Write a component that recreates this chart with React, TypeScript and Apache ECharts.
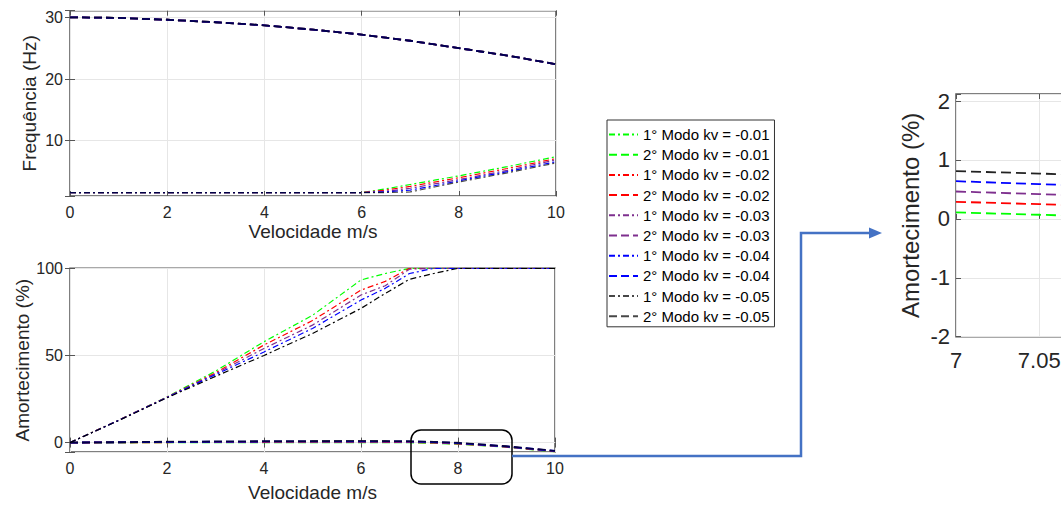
import React, { useEffect, useRef } from "react";
import * as echarts from "echarts";

// ---- data ----
const velocity = [0, 1, 2, 3, 4, 5, 6, 6.5, 7, 7.5, 8, 9, 10];
const kvLabels = ["-0.01", "-0.02", "-0.03", "-0.04", "-0.05"];
const kvColors = ["#00ff00", "#ff0000", "#7e2f8e", "#0000ff", "#000000"];

// Frequency (Hz), 1st mode, per kv
const freqMode1 = [
  [1.6, 1.6, 1.6, 1.6, 1.6, 1.6, 1.6, 2.2, 2.9, 3.6, 4.3, 5.8, 7.4],
  [1.6, 1.6, 1.6, 1.6, 1.6, 1.6, 1.6, 2.0, 2.6, 3.3, 4.0, 5.5, 7.1],
  [1.6, 1.6, 1.6, 1.6, 1.6, 1.6, 1.6, 1.8, 2.3, 3.0, 3.7, 5.2, 6.9],
  [1.6, 1.6, 1.6, 1.6, 1.6, 1.6, 1.6, 1.7, 2.0, 2.7, 3.5, 5.0, 6.6],
  [1.6, 1.6, 1.6, 1.6, 1.6, 1.6, 1.6, 1.6, 1.7, 2.5, 3.3, 4.8, 6.4],
];
// Frequency (Hz), 2nd mode, per kv
const freqMode2 = [
  [30.0, 29.9, 29.6, 29.2, 28.7, 28.0, 27.2, 26.7, 26.2, 25.6, 25.0, 23.8, 22.4],
  [30.0, 29.9, 29.6, 29.2, 28.7, 28.0, 27.2, 26.7, 26.2, 25.6, 25.0, 23.8, 22.4],
  [30.0, 29.9, 29.6, 29.2, 28.7, 28.0, 27.2, 26.7, 26.2, 25.6, 25.0, 23.8, 22.4],
  [30.0, 29.9, 29.6, 29.2, 28.7, 28.0, 27.2, 26.7, 26.2, 25.6, 25.0, 23.8, 22.4],
  [30.0, 29.9, 29.6, 29.2, 28.7, 28.0, 27.2, 26.7, 26.2, 25.6, 25.0, 23.8, 22.4],
];
// Damping (%), 1st mode, per kv
const dampMode1 = [
  [0, 12.8, 26.2, 41, 57.9, 73, 93.3, 97, 100, 100, 100, 100, 100],
  [0, 12.8, 26.1, 40, 56, 70, 87.5, 92.5, 100, 100, 100, 100, 100],
  [0, 12.8, 26.0, 39.5, 54, 67.4, 84.7, 90, 99.5, 100, 100, 100, 100],
  [0, 12.7, 25.9, 39, 52, 65.5, 81.8, 88.5, 97, 100, 100, 100, 100],
  [0, 12.6, 25.7, 38, 50, 62.6, 77, 85.6, 93.7, 97, 100, 100, 100],
];
// Damping (%), 2nd mode, per kv
const dampMode2 = [
  [0, 0.05, 0.1, 0.15, 0.2, 0.2, 0.2, 0.15, 0.11, -0.2, -0.7, -2.5, -5.1],
  [0, 0.1, 0.2, 0.3, 0.35, 0.4, 0.4, 0.35, 0.29, 0, -0.55, -2.4, -5.0],
  [0, 0.15, 0.3, 0.4, 0.5, 0.55, 0.6, 0.55, 0.465, 0.15, -0.4, -2.3, -4.9],
  [0, 0.2, 0.4, 0.5, 0.65, 0.7, 0.75, 0.7, 0.64, 0.3, -0.25, -2.2, -4.8],
  [0, 0.25, 0.5, 0.65, 0.8, 0.9, 0.95, 0.9, 0.81, 0.45, -0.1, -2.1, -4.7],
];
// Zoomed detail around 7 m/s, 2nd mode damping
const zoomVelocity = [7, 7.05, 7.1];
const zoomDampMode2 = [
  [0.11, 0.07, 0.03],
  [0.29, 0.25, 0.21],
  [0.465, 0.42, 0.38],
  [0.64, 0.59, 0.55],
  [0.81, 0.77, 0.72],
];

const FONT = "'Liberation Sans', Arial, Helvetica, sans-serif";
const AXIS_COLOR = "#555555";
const TEXT_COLOR = "#262626";
const GRID_LINE = "#e6e6e6";
const DASH = [8, 4];
const DASH_DOT = [6, 3, 2, 3];

const mode1Name = (i: number) => `1° Modo kv = ${kvLabels[i]}`;
const mode2Name = (i: number) => `2° Modo kv = ${kvLabels[i]}`;

function pairs(xs: number[], ys: number[]) {
  return xs.map((x, i) => [x, ys[i]]);
}

function hideNonMultiple(step: number) {
  return (v: number) => {
    const r = Math.round(v / step) * step;
    return Math.abs(v - r) < 1e-6 ? String(Math.round(r * 1000) / 1000) : "";
  };
}

export default function App() {
  const ref = useRef<HTMLDivElement>(null);

  useEffect(() => {
    if (!ref.current) return;
    const chart = echarts.init(ref.current, undefined, { renderer: "svg" });

    const tick = { show: true, inside: true, length: 5, lineStyle: { color: AXIS_COLOR, width: 1 } };
    const split = { show: true, lineStyle: { color: GRID_LINE, width: 1 } };
    const labelLeft = { fontSize: 16, color: TEXT_COLOR, fontFamily: FONT };

    const xMain = (gridIndex: number) => ({
      type: "value",
      gridIndex,
      min: 0,
      max: 10,
      interval: 2,
      axisLine: { show: false },
      axisTick: tick,
      splitLine: split,
      axisLabel: { ...labelLeft, margin: 8 },
      name: "Velocidade m/s",
      nameLocation: "middle",
      nameGap: gridIndex === 0 ? 26 : 31,
      nameTextStyle: { fontSize: 19, color: TEXT_COLOR, fontFamily: FONT },
    });
    const xTop = (gridIndex: number) => ({
      type: "value",
      gridIndex,
      position: "top",
      min: 0,
      max: 10,
      interval: 2,
      axisLine: { show: false },
      axisTick: tick,
      splitLine: { show: false },
      axisLabel: { show: false },
    });

    const series: any[] = [];
    for (let i = 0; i < 5; i++) {
      const c = kvColors[i];
      const op = i === 4 ? 0.72 : 1;
      series.push({
        name: mode1Name(i), type: "line", xAxisIndex: 0, yAxisIndex: 0,
        data: pairs(velocity, freqMode1[i]), symbol: "none",
        lineStyle: { color: c, width: 1.2, type: DASH_DOT, opacity: op }, itemStyle: { color: c },
      });
      series.push({
        name: mode2Name(i), type: "line", xAxisIndex: 0, yAxisIndex: 0,
        data: pairs(velocity, freqMode2[i]), symbol: "none",
        lineStyle: { color: c, width: 1.8, type: DASH, opacity: op }, itemStyle: { color: c },
      });
      series.push({
        name: mode1Name(i), type: "line", xAxisIndex: 2, yAxisIndex: 2,
        data: pairs(velocity, dampMode1[i]), symbol: "none",
        lineStyle: { color: c, width: 1.2, type: DASH_DOT }, itemStyle: { color: c },
      });
      series.push({
        name: mode2Name(i), type: "line", xAxisIndex: 2, yAxisIndex: 2,
        data: pairs(velocity, dampMode2[i]), symbol: "none",
        lineStyle: { color: c, width: 1.8, type: DASH, opacity: op }, itemStyle: { color: c },
      });
      series.push({
        name: mode2Name(i), type: "line", xAxisIndex: 4, yAxisIndex: 4,
        data: pairs(zoomVelocity, zoomDampMode2[i]), symbol: "none",
        lineStyle: { color: i === 4 ? "#222222" : c, width: 1.8, type: [10, 5] }, itemStyle: { color: c },
      });
    }

    const legendNames: string[] = [];
    for (let i = 0; i < 5; i++) {
      legendNames.push(mode1Name(i), mode2Name(i));
    }

    const option: any = {
      animation: false,
      textStyle: { fontFamily: FONT },
      grid: [
        { left: 70, top: 10.7, width: 486, height: 185.3, show: true, borderColor: AXIS_COLOR, borderWidth: 1.5 },
        { left: 70, top: 268.3, width: 485, height: 183.7, show: true, borderColor: AXIS_COLOR, borderWidth: 1.5 },
        { left: 956, top: 94, width: 333, height: 242.7, show: true, borderColor: AXIS_COLOR, borderWidth: 1.5 },
      ],
      xAxis: [
        xMain(0),
        xTop(0),
        xMain(1),
        xTop(1),
        {
          type: "value", gridIndex: 2, min: 7, max: 7.2, interval: 0.05,
          axisLine: { show: false }, axisTick: tick, splitLine: split,
          axisLabel: {
            fontSize: 22, color: TEXT_COLOR, fontFamily: FONT, margin: 13,
            // only the ticks that fall inside the visible window carry a label
            formatter: (v: number) => (v > 7.06 ? "" : String(parseFloat(v.toFixed(2)))),
          },
        },
        {
          type: "value", gridIndex: 2, position: "top", min: 7, max: 7.2, interval: 0.05,
          axisLine: { show: false }, axisTick: tick, splitLine: { show: false }, axisLabel: { show: false },
        },
      ],
      yAxis: [
        {
          type: "value", gridIndex: 0, min: 1.04, max: 31.07, splitNumber: 3,
          axisLine: { show: false }, axisTick: tick, splitLine: split,
          axisLabel: { ...labelLeft, margin: 7, formatter: hideNonMultiple(10) },
          name: "Frequência (Hz)", nameLocation: "middle", nameGap: 31,
          nameTextStyle: { fontSize: 19, color: TEXT_COLOR, fontFamily: FONT },
        },
        {
          type: "value", gridIndex: 0, position: "right", min: 1.04, max: 31.07, splitNumber: 3,
          axisLine: { show: false }, axisTick: tick, splitLine: { show: false }, axisLabel: { show: false },
        },
        {
          type: "value", gridIndex: 1, min: -5.4, max: 100, splitNumber: 2,
          axisLine: { show: false }, axisTick: tick, splitLine: split,
          axisLabel: { ...labelLeft, margin: 7, formatter: hideNonMultiple(50) },
          name: "Amortecimento (%)", nameLocation: "middle", nameGap: 38,
          nameTextStyle: { fontSize: 19, color: TEXT_COLOR, fontFamily: FONT },
        },
        {
          type: "value", gridIndex: 1, position: "right", min: -5.4, max: 100, splitNumber: 2,
          axisLine: { show: false }, axisTick: tick, splitLine: { show: false }, axisLabel: { show: false },
        },
        {
          type: "value", gridIndex: 2, min: -2, max: 2.12, interval: 1,
          axisLine: { show: false }, axisTick: tick, splitLine: split,
          axisLabel: { fontSize: 22, color: TEXT_COLOR, fontFamily: FONT, margin: 6, formatter: hideNonMultiple(1) },
          name: "Amortecimento (%)", nameLocation: "middle", nameGap: 34,
          nameTextStyle: { fontSize: 24, color: TEXT_COLOR, fontFamily: FONT },
        },
      ],
      legend: {
        data: legendNames,
        orient: "vertical",
        left: 607,
        top: 120,
        padding: [7, 5, 3, 1],
        itemWidth: 29,
        itemHeight: 14,
        itemGap: 5.2,
        borderColor: "#333333",
        borderWidth: 1,
        backgroundColor: "#ffffff",
        selectedMode: false,
        itemStyle: { opacity: 0 },
        textStyle: { fontSize: 15, color: "#000000", fontFamily: FONT, lineHeight: 15 },
      },
      graphic: [
        {
          type: "rect", z: 100,
          shape: { x: 411, y: 430, width: 101, height: 54, r: 10 },
          style: { fill: "none", stroke: "#000000", lineWidth: 1.5 },
        },
        {
          type: "polyline", z: 100,
          shape: { points: [[512, 456], [801, 456], [801, 233], [871, 233]] },
          style: { fill: "none", stroke: "#4472c4", lineWidth: 2.5 },
        },
        {
          type: "polygon", z: 100,
          shape: { points: [[869, 227.5], [882, 233], [869, 238.5]] },
          style: { fill: "#4472c4" },
        },
      ],
      series,
    };

    chart.setOption(option);
    return () => chart.dispose();
  }, []);

  return (
    <div style={{ position: "fixed", left: 0, top: 0, width: 1061, height: 506, overflow: "hidden", background: "#ffffff" }}>
      <div ref={ref} style={{ position: "absolute", left: 0, top: 0, width: 1400, height: 506 }} />
    </div>
  );
}
